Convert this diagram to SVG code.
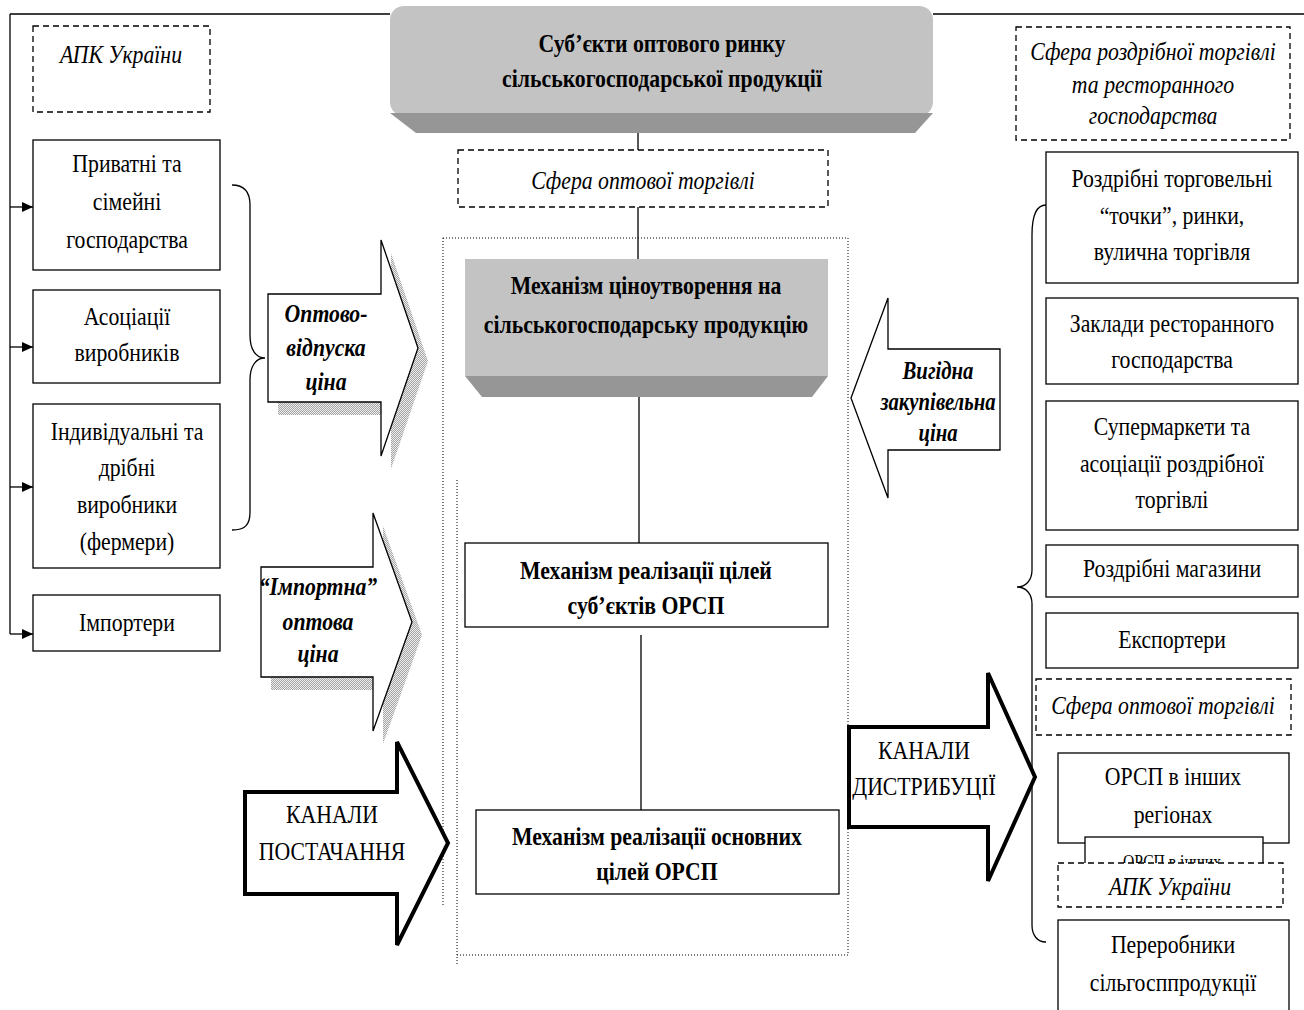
<svg xmlns="http://www.w3.org/2000/svg" width="1304" height="1010" viewBox="0 0 1304 1010">
<style>
.t{font-family:"Liberation Serif","Times New Roman",serif;font-size:25px;text-anchor:middle;fill:#000}
.b{font-weight:bold}
.i{font-style:italic}
.s{font-size:18px}
.box{fill:#fff;stroke:#000;stroke-width:1.3}
.dash{fill:#fff;stroke:#000;stroke-width:1.3;stroke-dasharray:6 4}
.ln{stroke:#000;stroke-width:1.3;fill:none}
.dot{stroke:#000;stroke-width:1;fill:none;stroke-dasharray:1 2}
.face{fill:#c3c3c3}
.bevel{fill:#969696}
.arr{fill:#fff;stroke:#000;stroke-width:1.3;stroke-linejoin:miter}
.thick{fill:#fff;stroke:#000;stroke-width:4;stroke-linejoin:miter}
.shadow{fill:url(#stip)}
</style>
<defs>
<pattern id="stip" width="2" height="2" patternUnits="userSpaceOnUse">
<rect width="2" height="2" fill="#ececec"/>
<rect width="1" height="1" fill="#a6a6a6"/>
<rect x="1" y="1" width="1" height="1" fill="#a6a6a6"/>
</pattern>
<marker id="ah" markerWidth="12" markerHeight="12" refX="11" refY="6" orient="auto" markerUnits="userSpaceOnUse">
<path d="M0,1 L11,6 L0,11 Z" fill="#000"/>
</marker>
</defs>

<g id="connectors">
<path class="ln" d="M10,14 H390 M933,14 H1304"/>
<path class="ln" d="M10,14 V634"/>
<path class="ln" d="M10,207 H33" marker-end="url(#ah)"/>
<path class="ln" d="M10,347 H33" marker-end="url(#ah)"/>
<path class="ln" d="M10,487 H33" marker-end="url(#ah)"/>
<path class="ln" d="M10,634 H33" marker-end="url(#ah)"/>
<path class="ln" d="M638,133 V150 M638,207 V259 M639,397 V543 M641,635 V810"/>
<path class="ln" d="M232,185 C245,185 250,192 250,205 V335 C250,350 256,358 265,358 C256,358 250,366 250,380 V512 C250,525 245,530 232,530"/>
<path class="ln" d="M1046,205 C1037,205 1032,215 1032,235 V570 C1032,580 1026,587 1017,587 C1026,587 1032,594 1032,604 V925 C1032,935 1037,942 1046,942"/>
<path class="dot" d="M443,238 H848 V955 H457 M443,238 V907 M457,480 V965"/>
</g>

<g id="title">
<rect class="face" x="390" y="6" width="543" height="110" rx="14"/>
<polygon class="bevel" points="390,113 933,113 915,133 416,133"/>
<text class="t b" transform="translate(662,0) scale(.87,1)"><tspan x="0" y="52">Суб’єкти оптового ринку</tspan><tspan x="0" y="87">сільськогосподарської продукції</tspan></text>
</g>

<g id="apk-left">
<rect class="dash" x="33" y="26" width="177" height="86"/>
<text class="t i" transform="translate(121,0) scale(.87,1)"><tspan x="0" y="63">АПК України</tspan></text>
</g>
<g id="private">
<rect class="box" x="33" y="140" width="187" height="130"/>
<text class="t" transform="translate(127,0) scale(.87,1)"><tspan x="0" y="172">Приватні та</tspan><tspan x="0" y="210">сімейні</tspan><tspan x="0" y="248">господарства</tspan></text>
</g>
<g id="assoc">
<rect class="box" x="33" y="290" width="187" height="93"/>
<text class="t" transform="translate(127,0) scale(.87,1)"><tspan x="0" y="325">Асоціації</tspan><tspan x="0" y="361">виробників</tspan></text>
</g>
<g id="individual">
<rect class="box" x="33" y="404" width="187" height="164"/>
<text class="t" transform="translate(127,0) scale(.87,1)"><tspan x="0" y="440">Індивідуальні та</tspan><tspan x="0" y="476">дрібні</tspan><tspan x="0" y="513">виробники</tspan><tspan x="0" y="550">(фермери)</tspan></text>
</g>
<g id="importers">
<rect class="box" x="33" y="595" width="187" height="56"/>
<text class="t" transform="translate(127,0) scale(.87,1)"><tspan x="0" y="631">Імпортери</tspan></text>
</g>

<g id="arrow-wholesale">
<polygon class="shadow" transform="translate(10,13)" points="268,294 381,294 381,240 418,348 381,456 381,402 268,402"/>
<polygon class="arr" points="268,294 381,294 381,240 418,348 381,456 381,402 268,402"/>
<text class="t b i" transform="translate(326,0) scale(.87,1)"><tspan x="0" y="322">Оптово-</tspan><tspan x="0" y="356">відпуска</tspan><tspan x="0" y="390">ціна</tspan></text>
</g>
<g id="arrow-import">
<polygon class="shadow" transform="translate(10,13)" points="261,567 373,567 373,513 412,622 373,731 373,677 261,677"/>
<polygon class="arr" points="261,567 373,567 373,513 412,622 373,731 373,677 261,677"/>
<text class="t b i" transform="translate(318,0) scale(.87,1)"><tspan x="0" y="595">“Імпортна”</tspan><tspan x="0" y="630">оптова</tspan><tspan x="0" y="662">ціна</tspan></text>
</g>
<g id="arrow-supply">
<polygon class="thick" points="245,792 397,792 397,742 448,843 397,945 397,894 245,894"/>
<text class="t" transform="translate(332,0) scale(.87,1)"><tspan x="0" y="823">КАНАЛИ</tspan><tspan x="0" y="860">ПОСТАЧАННЯ</tspan></text>
</g>

<g id="wholesale-sphere">
<rect class="dash" x="458" y="150" width="370" height="57"/>
<text class="t i" transform="translate(643,0) scale(.87,1)"><tspan x="0" y="189">Сфера оптової торгівлі</tspan></text>
</g>
<g id="pricing">
<rect class="face" x="465" y="259" width="363" height="117"/>
<polygon class="bevel" points="465,376 828,376 812,397 482,397"/>
<text class="t b" transform="translate(646,0) scale(.87,1)"><tspan x="0" y="294">Механізм ціноутворення на</tspan><tspan x="0" y="333">сільськогосподарську продукцію</tspan></text>
</g>
<g id="goals-subjects">
<rect class="box" x="465" y="543" width="363" height="84"/>
<text class="t b" transform="translate(646,0) scale(.87,1)"><tspan x="0" y="579">Механізм реалізації цілей</tspan><tspan x="0" y="614">суб’єктів ОРСП</tspan></text>
</g>
<g id="goals-main">
<rect class="box" x="476" y="810" width="363" height="84"/>
<text class="t b" transform="translate(657,0) scale(.87,1)"><tspan x="0" y="845">Механізм реалізації основних</tspan><tspan x="0" y="880">цілей ОРСП</tspan></text>
</g>

<g id="arrow-purchase">
<polygon class="arr" points="851,398 888,298 888,349 1000,349 1000,450 888,450 888,498"/>
<text class="t b i" transform="translate(938,0) scale(.83,1)"><tspan x="0" y="379">Вигідна</tspan><tspan x="0" y="410">закупівельна</tspan><tspan x="0" y="441">ціна</tspan></text>
</g>
<g id="arrow-distribution">
<polygon class="thick" points="849,727 988,727 988,673 1035,777 988,881 988,827 849,827"/>
<text class="t" transform="translate(924,0) scale(.87,1)"><tspan x="0" y="759">КАНАЛИ</tspan><tspan x="0" y="795">ДИСТРИБУЦІЇ</tspan></text>
</g>

<g id="retail-sphere">
<rect class="dash" x="1016" y="27" width="274" height="113"/>
<text class="t i" transform="translate(1153,0) scale(.87,1)"><tspan x="0" y="60">Сфера роздрібної торгівлі</tspan><tspan x="0" y="93">та ресторанного</tspan><tspan x="0" y="124">господарства</tspan></text>
</g>
<g id="retail-points">
<rect class="box" x="1046" y="152" width="252" height="131"/>
<text class="t" transform="translate(1172,0) scale(.87,1)"><tspan x="0" y="187">Роздрібні торговельні</tspan><tspan x="0" y="224">“точки”, ринки,</tspan><tspan x="0" y="260">вулична торгівля</tspan></text>
</g>
<g id="restaurants">
<rect class="box" x="1046" y="298" width="252" height="86"/>
<text class="t" transform="translate(1172,0) scale(.87,1)"><tspan x="0" y="332">Заклади ресторанного</tspan><tspan x="0" y="368">господарства</tspan></text>
</g>
<g id="supermarkets">
<rect class="box" x="1046" y="401" width="252" height="129"/>
<text class="t" transform="translate(1172,0) scale(.87,1)"><tspan x="0" y="435">Супермаркети та</tspan><tspan x="0" y="472">асоціації роздрібної</tspan><tspan x="0" y="508">торгівлі</tspan></text>
</g>
<g id="retail-shops">
<rect class="box" x="1046" y="545" width="252" height="52"/>
<text class="t" transform="translate(1172,0) scale(.87,1)"><tspan x="0" y="577">Роздрібні магазини</tspan></text>
</g>
<g id="exporters">
<rect class="box" x="1046" y="613" width="252" height="55"/>
<text class="t" transform="translate(1172,0) scale(.87,1)"><tspan x="0" y="648">Експортери</tspan></text>
</g>
<g id="wholesale-sphere-right">
<rect class="dash" x="1036" y="679" width="255" height="56"/>
<text class="t i" transform="translate(1163,0) scale(.87,1)"><tspan x="0" y="714">Сфера оптової торгівлі</tspan></text>
</g>
<g id="orsp-regions">
<rect class="box" x="1058" y="753" width="231" height="90"/>
<text class="t" transform="translate(1173,0) scale(.87,1)"><tspan x="0" y="785">ОРСП в інших</tspan><tspan x="0" y="823">регіонах</tspan></text>
</g>
<g id="orsp-regions-2">
<rect class="box" x="1085" y="837" width="178" height="45"/>
<text class="t s" transform="translate(1172,0) scale(.87,1)"><tspan x="0" y="868">ОРСП в інших</tspan></text>
</g>
<g id="apk-right">
<rect class="dash" x="1058" y="863" width="225" height="44"/>
<text class="t i" transform="translate(1170,0) scale(.87,1)"><tspan x="0" y="895">АПК України</tspan></text>
</g>
<g id="processors">
<rect class="box" x="1058" y="920" width="231" height="100"/>
<text class="t" transform="translate(1173,0) scale(.87,1)"><tspan x="0" y="953">Переробники</tspan><tspan x="0" y="991">сільгосппродукції</tspan></text>
</g>
</svg>
